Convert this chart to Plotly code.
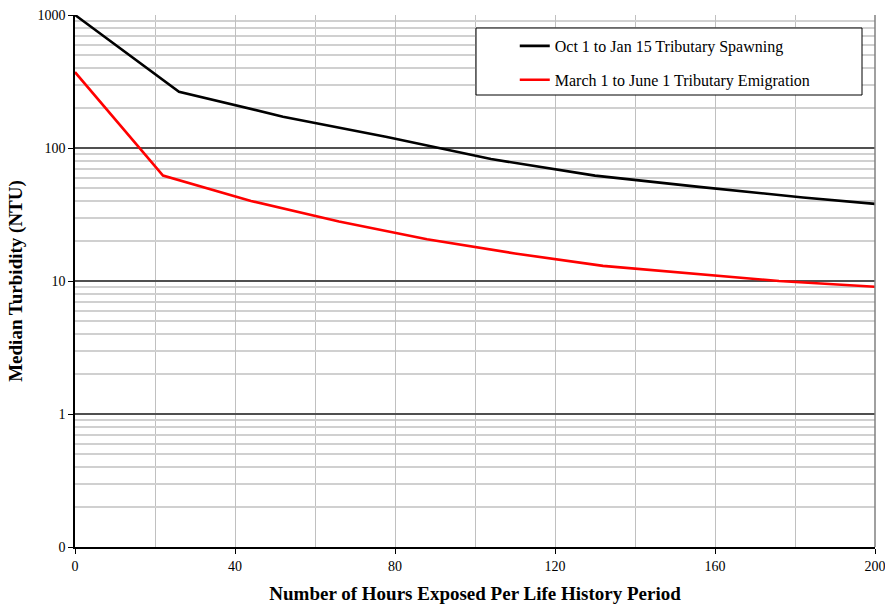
import plotly.graph_objects as go

hours_spawn = [0, 26, 52, 78, 104, 130, 156, 182, 200]
turb_spawn = [1000, 265, 172, 121, 82.6, 62, 51, 42.5, 38]

hours_emig = [0, 22, 44, 66, 88, 110, 132, 154, 176, 200]
turb_emig = [372, 62, 40, 28, 20.6, 16.1, 13.0, 11.4, 10.0, 9.06]

name_spawn = "Oct 1 to Jan 15 Tributary Spawning"
name_emig = "March 1 to June 1 Tributary Emigration"

y_tickvals = [0.1, 1, 10, 100, 1000]
y_ticktext = ["0", "1", "10", "100", "1000"]
x_tickvals = [0, 40, 80, 120, 160, 200]

FONT = "Liberation Serif, Times New Roman, serif"

fig = go.Figure()
fig.add_trace(go.Scatter(x=hours_spawn, y=turb_spawn, mode="lines", name=name_spawn,
                         legendgroup="a", line=dict(color="black", width=2.6)))
fig.add_trace(go.Scatter(x=hours_emig, y=turb_emig, mode="lines", name=name_emig,
                         legendgroup="b", line=dict(color="#ff0000", width=2.6)))

fig.update_layout(
    width=885, height=605,
    margin=dict(l=75, r=10, t=15, b=58, autoexpand=False),
    paper_bgcolor="white", plot_bgcolor="white",
    font=dict(family=FONT, size=14, color="black"),
    showlegend=True,
    legend=dict(x=0.5497, y=0.9737, xanchor="left", yanchor="top",
                bgcolor="rgba(0,0,0,0)", borderwidth=0,
                font=dict(family=FONT, size=16, color="black"),
                traceorder="grouped", tracegroupgap=10),
    shapes=[dict(type="rect", xref="paper", yref="paper",
                 x0=(476 - 75) / 800, x1=(862 - 75) / 800,
                 y0=(547 - 95) / 532, y1=(547 - 28) / 532,
                 line=dict(color="black", width=1), fillcolor="white", layer="above")],
)

fig.update_xaxes(
    range=[0, 200], tickvals=x_tickvals, ticks="outside", ticklen=5, tickcolor="black",
    showgrid=True, gridcolor="#c0c0c0", gridwidth=1,
    minor=dict(dtick=20, tick0=0, showgrid=True, gridcolor="#c0c0c0", gridwidth=1, ticks=""),
    showline=True, linecolor="black", linewidth=1.5, zeroline=False, automargin=False,
    ticklabeloverflow="allow",
    title=dict(text="<b>Number of Hours Exposed Per Life History Period</b>",
               font=dict(family=FONT, size=19), standoff=14),
    tickfont=dict(family=FONT, size=14),
)
fig.update_yaxes(
    type="log", range=[-1, 3], tickvals=y_tickvals, ticktext=y_ticktext,
    ticks="outside", ticklen=5, tickcolor="black",
    showgrid=True, gridcolor="#505050", gridwidth=1.5,
    minor=dict(tickvals=[m * 10 ** e for e in (-1, 0, 1, 2) for m in range(2, 10)],
               showgrid=True, gridcolor="#d0d0d0", gridwidth=1.5, ticks=""),
    showline=True, linecolor="black", linewidth=1.5, zeroline=False, automargin=False,
    ticklabeloverflow="allow",
    title=dict(text="<b>Median Turbidity (NTU)</b>", font=dict(family=FONT, size=19), standoff=10),
    tickfont=dict(family=FONT, size=14),
)
# right-side border
fig.add_shape(type="line", xref="paper", yref="paper", x0=1, x1=1, y0=0, y1=1,
              line=dict(color="#808080", width=1.5))

fig.write_html("out.html", config={"displayModeBar": False},
               post_script="document.body.style.margin='0';document.body.style.overflow='hidden';")
